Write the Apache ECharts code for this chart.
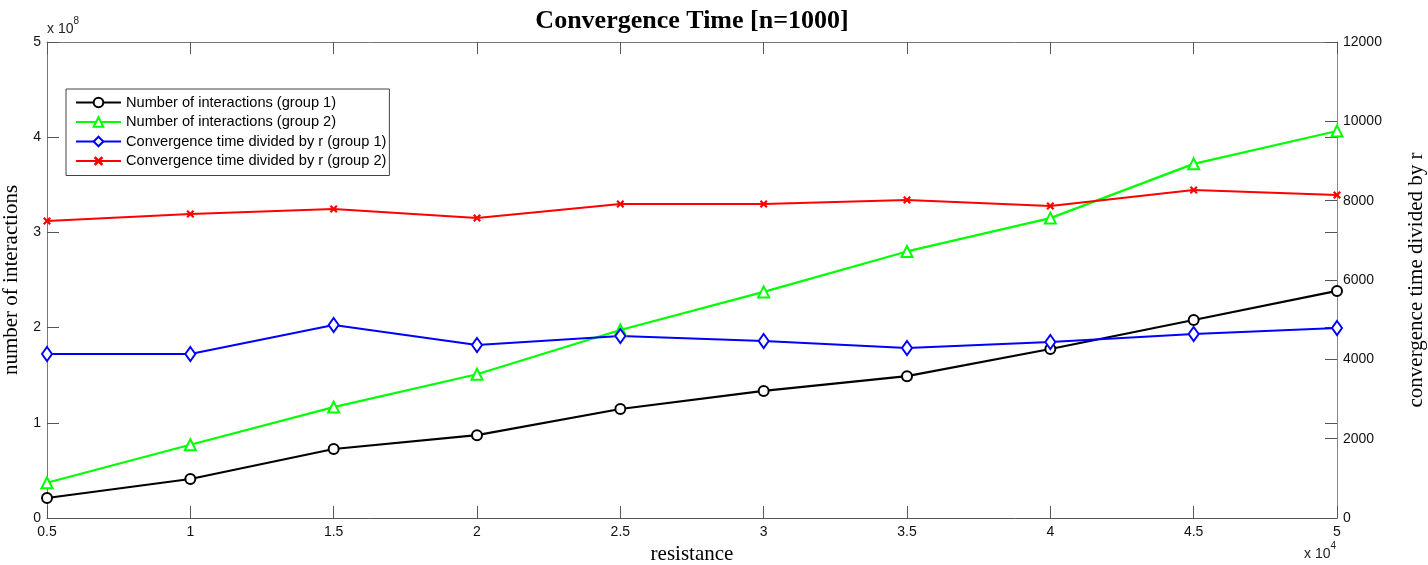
<!DOCTYPE html>
<html>
<head>
<meta charset="utf-8">
<script src="https://cdn.jsdelivr.net/npm/echarts@6/dist/echarts.min.js"></script>
<style>html,body{margin:0;padding:0;background:#fff;}#c{width:1428px;height:565px;}</style>
</head>
<body>
<div id="c"></div>
<script>
const resistance = [0.5, 1, 1.5, 2, 2.5, 3, 3.5, 4, 4.5, 5];
const interactionsG1 = [0.21, 0.41, 0.725, 0.87, 1.145, 1.335, 1.49, 1.775, 2.08, 2.385];
const interactionsG2 = [0.37, 0.77, 1.165, 1.51, 1.975, 2.375, 2.80, 3.15, 3.72, 4.065];
const convTimeG1 = [4134, 4134, 4866, 4361, 4588, 4462, 4286, 4437, 4639, 4790];
const convTimeG2 = [7487, 7664, 7790, 7563, 7916, 7916, 8017, 7866, 8269, 8143];
const seriesNames = ['Number of interactions (group 1)', 'Number of interactions (group 2)', 'Convergence time divided by r (group 1)', 'Convergence time divided by r (group 2)'];

const pair = (xs, ys) => xs.map((x, i) => [x, ys[i]]);
const sans = 'Liberation Sans, Arial, sans-serif';
const serif = 'Liberation Serif, Times New Roman, serif';
const xPath = 'path://M0,2L2,0L5,3L8,0L10,2L7,5L10,8L8,10L5,7L2,10L0,8L3,5Z';

const chart = echarts.init(document.getElementById('c'));
const tickLen = 12;
chart.setOption({
  animation: false,
  backgroundColor: '#fff',
  grid: { left: 47, right: 91, top: 42, bottom: 47, containLabel: false, outerBoundsMode: 'none' },
  legend: {
    orient: 'vertical', left: 66, top: 89,
    padding: [6, 3, 7, 9],
    backgroundColor: '#fff', borderColor: '#444', borderWidth: 1,
    itemWidth: 45, itemHeight: 12, itemGap: 4.5,
    textStyle: { fontFamily: sans, fontSize: 14.6, lineHeight: 15, color: '#000' },
    data: seriesNames
  },
  xAxis: [{
    type: 'value', min: 0.5, max: 5, interval: 0.5,
    name: 'resistance', nameLocation: 'middle', nameGap: 26,
    nameTextStyle: { fontFamily: serif, fontSize: 21, color: '#000' },
    axisLine: { onZero: false, lineStyle: { color: '#555' } },
    axisTick: { inside: true, length: tickLen, lineStyle: { color: '#555' } },
    axisLabel: { fontFamily: sans, fontSize: 14, color: '#111', margin: 7 },
    splitLine: { show: false }
  }, {
    type: 'value', min: 0.5, max: 5, interval: 0.5, position: 'top',
    axisLine: { onZero: false, lineStyle: { color: '#777' } },
    axisTick: { inside: true, length: tickLen, lineStyle: { color: '#555' } },
    axisLabel: { show: false }, splitLine: { show: false }
  }],
  yAxis: [{
    type: 'value', min: 0, max: 5, interval: 1, position: 'left',
    name: 'number of interactions', nameLocation: 'middle', nameGap: 22,
    nameTextStyle: { fontFamily: serif, fontSize: 21, color: '#000' },
    axisLine: { show: true, onZero: false, lineStyle: { color: '#777' } },
    axisTick: { show: true, inside: true, length: tickLen, lineStyle: { color: '#555' } },
    axisLabel: { fontFamily: sans, fontSize: 14, color: '#111', margin: 6 },
    splitLine: { show: false }
  }, {
    type: 'value', min: 0, max: 12000, interval: 2000, position: 'right',
    name: 'convergence time divided by r', nameLocation: 'middle', nameGap: 69,
    nameTextStyle: { fontFamily: serif, fontSize: 21, color: '#000' },
    axisLine: { show: true, onZero: false, lineStyle: { color: '#888' } },
    axisTick: { show: true, inside: true, length: tickLen, lineStyle: { color: '#555' } },
    axisLabel: { fontFamily: sans, fontSize: 14, color: '#111', margin: 6, formatter: v => String(v) },
    splitLine: { show: false }
  }, {
    type: 'value', min: 0, max: 5, interval: 1, position: 'right',
    axisLine: { show: false },
    axisTick: { show: true, inside: true, length: tickLen, lineStyle: { color: '#555' } },
    axisLabel: { show: false }, splitLine: { show: false }
  }],
  graphic: [{
    type: 'text', x: 692, y: 8,
    style: {
      text: 'Convergence Time [n=1000]', align: 'center',
      fontFamily: serif, fontSize: 26, fontWeight: 'bold', fill: '#000'
    }
  }, {
    type: 'text', left: 47, top: 16,
    style: {
      text: '{a|x 10}{s|8}',
      rich: {
        a: { fontFamily: sans, fontSize: 14, fill: '#222', padding: [6, 0, 0, 0] },
        s: { fontFamily: sans, fontSize: 10, fill: '#222', verticalAlign: 'top' }
      }
    }
  }, {
    type: 'text', left: 1304, top: 541,
    style: {
      text: '{a|x 10}{s|4}',
      rich: {
        a: { fontFamily: sans, fontSize: 14, fill: '#222', padding: [6, 0, 0, 0] },
        s: { fontFamily: sans, fontSize: 10, fill: '#222', verticalAlign: 'top' }
      }
    }
  }],
  series: [{
    name: seriesNames[0], type: 'line', xAxisIndex: 0, yAxisIndex: 0,
    data: pair(resistance, interactionsG1),
    symbol: 'emptyCircle', symbolSize: 10,
    lineStyle: { color: '#000', width: 2.2 },
    itemStyle: { color: '#000', borderWidth: 2 }
  }, {
    name: seriesNames[1], type: 'line', xAxisIndex: 0, yAxisIndex: 0,
    data: pair(resistance, interactionsG2),
    symbol: 'emptyTriangle', symbolSize: 11,
    lineStyle: { color: '#00ff00', width: 2.2 },
    itemStyle: { color: '#00ff00', borderWidth: 2 }
  }, {
    name: seriesNames[2], type: 'line', xAxisIndex: 0, yAxisIndex: 1,
    data: pair(resistance, convTimeG1),
    symbol: 'emptyDiamond', symbolSize: [10, 14],
    lineStyle: { color: '#0000ff', width: 2.2 },
    itemStyle: { color: '#0000ff', borderWidth: 2 }
  }, {
    name: seriesNames[3], type: 'line', xAxisIndex: 0, yAxisIndex: 1,
    data: pair(resistance, convTimeG2),
    symbol: xPath, symbolSize: 8,
    lineStyle: { color: '#ff0000', width: 2.2 },
    itemStyle: { color: '#ff0000' }
  }]
});
</script>
</body>
</html>
